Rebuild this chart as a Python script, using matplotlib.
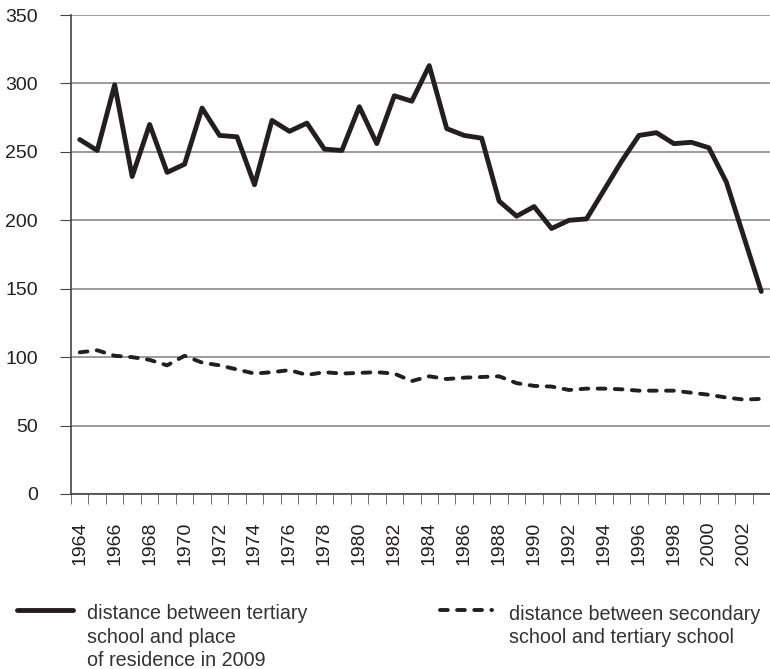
import matplotlib
matplotlib.use("Agg")
import matplotlib.pyplot as plt
from matplotlib.lines import Line2D
import numpy as np

plt.rcParams['font.family'] = ['Liberation Sans', 'DejaVu Sans']

years = list(range(1964, 2004))
# distance between tertiary school and place of residence in 2009
tertiary_home = [259, 251, 299, 232, 270, 235, 241, 282, 262, 261,
                 226, 273, 265, 271, 252, 251, 283, 256, 291, 287,
                 313, 267, 262, 260, 214, 203, 210, 194, 200, 201,
                 222, 243, 262, 264, 256, 257, 253, 228, 188, 148]
# distance between secondary school and tertiary school
secondary_tertiary = [103.5, 105, 101, 100, 98, 94, 101, 96, 94, 91,
                      88, 89, 90.5, 87, 89, 88, 88.5, 89, 88, 82.5,
                      86, 84, 85, 85.5, 86, 81, 79, 78.5, 76, 77,
                      77, 76.5, 75.5, 75.5, 75.5, 74, 72.5, 70.5, 69, 69.5]
label_a = "distance between tertiary\nschool and place\nof residence in 2009"
label_b = "distance between secondary\nschool and tertiary school"

ink = '#231f20'
solid_style = dict(color=ink, lw=3.5, solid_capstyle='round', solid_joinstyle='round')
dash_style = dict(color=ink, lw=2.8, ls=(0, (2.0, 2.4)), dash_capstyle='round')

W, H = 770, 669
fig = plt.figure(figsize=(W / 100, H / 100), dpi=100)
ax = fig.add_axes([71 / W, (H - 494) / H, (770 - 71) / W, 479 / H])

x = np.arange(len(years))
ax.plot(x, tertiary_home, **solid_style)
ax.plot(x, secondary_tertiary, **dash_style)

ax.set_xlim(-0.5, -0.5 + 699 / 17.6)
ax.set_ylim(0, 350)
ax.set_yticks(range(0, 351, 50))
ax.yaxis.grid(True, color='#8a8a8a', lw=1.2)
ax.set_axisbelow(True)

ax.set_xticks(x[::2])
ax.set_xticklabels([str(y) for y in years[::2]], rotation=90)
ax.set_xticks(np.arange(-0.5, len(years), 1), minor=True)
ax.tick_params(axis='x', which='major', length=0, pad=20)
ax.tick_params(axis='x', which='minor', length=7.5, color='#555555')
ax.tick_params(axis='y', length=8, color='#444444', pad=16)
ax.tick_params(labelsize=14, labelcolor=ink)

for s in ['top', 'right']:
    ax.spines[s].set_visible(False)
for s in ['left', 'bottom']:
    ax.spines[s].set_color('#444444')
    ax.spines[s].set_linewidth(1.2)

# legend drawn by hand so the key sits on the first text line
# (multi-line text with va='baseline' anchors on its last line)
key_y = 1 - 610 / H
step = 23
fig.add_artist(Line2D([17 / W, 73 / W], [key_y, key_y], transform=fig.transFigure, **solid_style))
fig.add_artist(Line2D([440 / W, 492 / W], [key_y, key_y], transform=fig.transFigure, **dash_style))
for lx, lab in [(87, label_a), (509, label_b)]:
    n = lab.count('\n')
    fig.text(lx / W, 1 - (620 + n * step) / H, lab, va='baseline', ha='left',
             fontsize=14.2, color='#333333', linespacing=1.29)

fig.savefig('out.png', dpi=100)
